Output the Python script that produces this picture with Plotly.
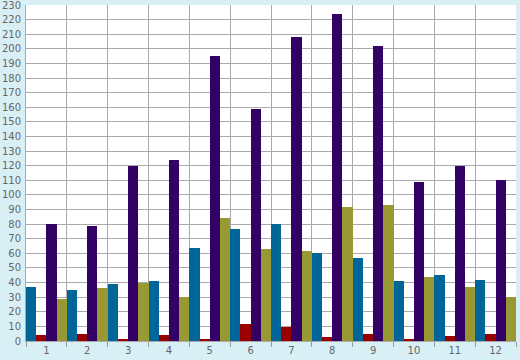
import plotly.graph_objects as go

categories = [str(i) for i in range(1, 13)]
blue_vals = [37, 35, 39, 41, 64, 77, 80, 60, 57, 41, 45, 42]
red_vals = [4, 5, 1.5, 4, 0.7, 11.7, 9.6, 2.7, 4.8, 1.4, 3.4, 4.8]
purple_vals = [80, 79, 120, 124, 195, 159, 208, 224, 202, 109, 120, 110]
olive_vals = [29, 36, 40, 30, 84, 63, 61.5, 92, 93, 44, 37, 30]

series = [
    ("Blue", blue_vals, "#006699"),
    ("Red", red_vals, "#990000"),
    ("Purple", purple_vals, "#330066"),
    ("Olive", olive_vals, "#999933"),
]

fig = go.Figure()
for name, vals, color in series:
    fig.add_trace(go.Bar(x=categories, y=vals, name=name, marker=dict(color=color, line=dict(width=0))))

font = dict(family="DejaVu Sans", size=10, color="#666666")
fig.update_layout(
    width=520, height=360,
    margin=dict(l=26, r=4, t=5, b=19),
    paper_bgcolor="#d9eff6",
    plot_bgcolor="#ffffff",
    barmode="group", bargap=0, bargroupgap=0,
    showlegend=False,
    font=font,
)
fig.update_xaxes(
    type="category", tickson="boundaries", ticks="outside", ticklen=5,
    tickcolor="#999999", showgrid=True, gridcolor="#aaaaaa", gridwidth=1,
    showline=True, linecolor="#aaaaaa", mirror=False, tickfont=font,
    automargin=False,
)
fig.update_yaxes(
    range=[0, 230.05], tickvals=list(range(0, 231, 10)), showgrid=True, gridcolor="#aaaaaa", gridwidth=1,
    showline=True, linecolor="#aaaaaa", zeroline=False, ticks="", tickfont=font,
    ticklabelstandoff=2, automargin=False, ticklabeloverflow="allow",
)
fig.write_html(
    "out.html",
    config={"displayModeBar": False},
    post_script="document.body.style.margin='0';document.body.style.overflow='hidden';",
)
